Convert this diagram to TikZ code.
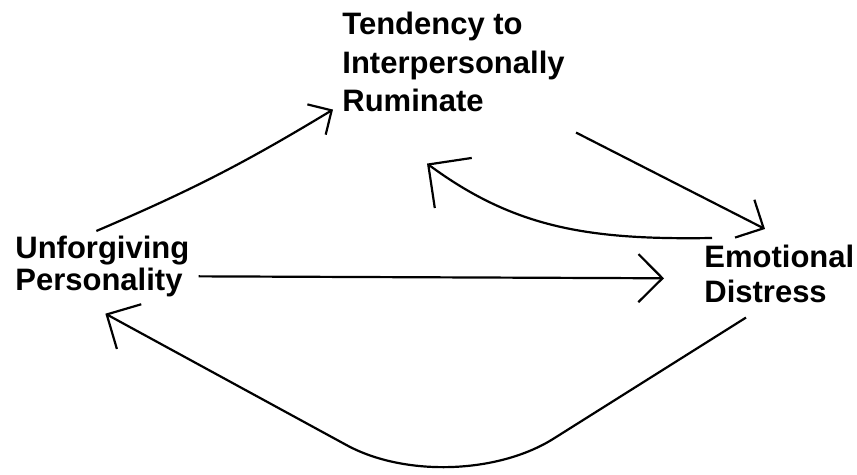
\documentclass[tikz,border=0pt]{standalone}
\usepackage{fontspec}
\setmainfont{Liberation Sans}
\usetikzlibrary{arrows.meta,positioning,calc}
\tikzset{lbl/.style={anchor=north west,inner sep=0pt,align=left,font=\bfseries\fontsize{15.5}{#1}\selectfont},
  lbl/.default=19.25pt,
  arr/.style={line width=1.1pt,-{Straight Barb[angle=90:#1]}},
  arr/.default=17pt}

\begin{document}
\begin{tikzpicture}[x=0.5pt,y=-0.5pt]
\useasboundingbox (0,0) rectangle (857,475);
\node[lbl] (tend) at (342,12){Tendency to\\Interpersonally\\Ruminate};
\node[lbl=16pt] (pers) at (15,236){Unforgiving\\Personality};
\node[lbl=17.5pt] (dist) at (704,245){Emotional\\Distress};
\draw[arr=12.5pt] ([shift={(-6,-5)}]pers.north) to[bend right=4] ([shift={(-9,-3)}]tend.south west);
\draw[arr=15pt] ([shift={(11,20)}]tend.south east) -- ([shift={(61,-16)}]dist.north west);
\draw[arr=22pt] ([shift={(8,-7)}]dist.north west) .. controls +(-122,2) and +(88,65) .. ([shift={(85,51)}]tend.south west);
\draw[arr] ([shift={(9,9.5)}]pers.east) -- ([shift={(-40,4)}]dist.west);
\draw[arr=18pt,rounded corners=60pt] ([shift={(42,14)}]dist.south west) -- ++(-294,185) -- ([shift={(3,16)}]pers.south);
\end{tikzpicture}
\end{document}
